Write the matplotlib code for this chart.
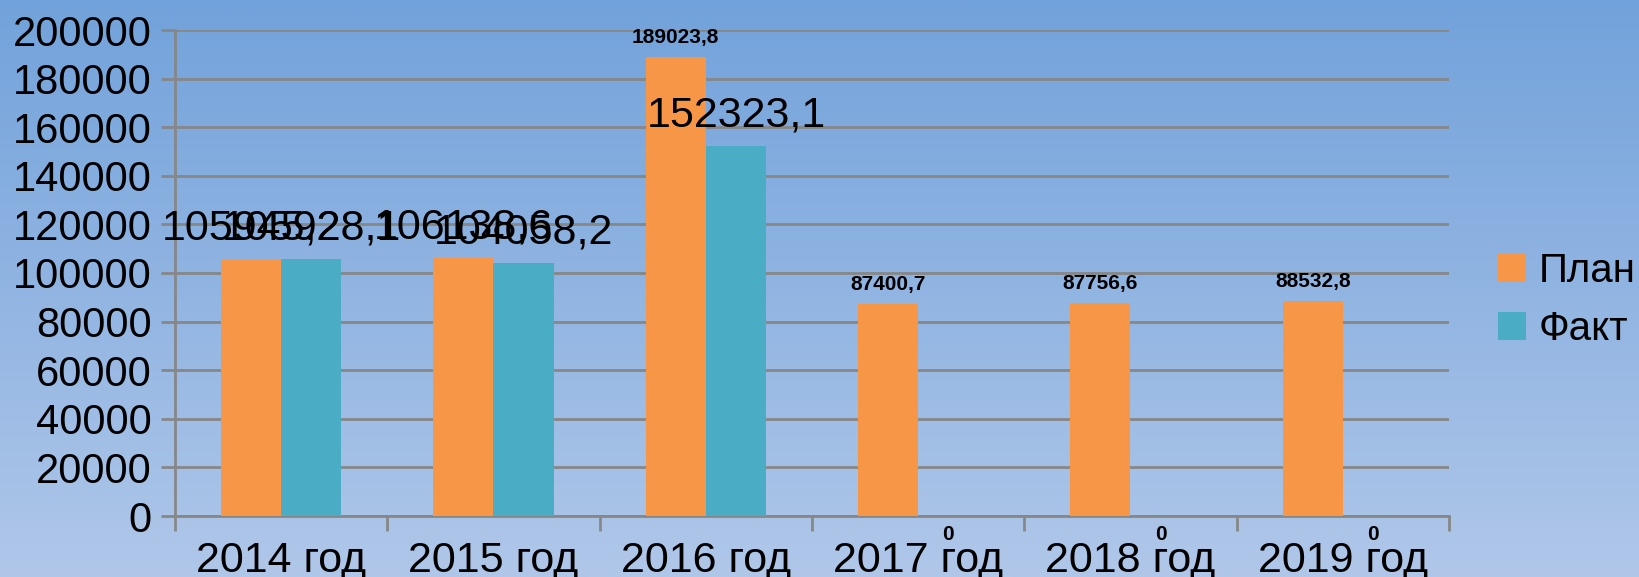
"""Plan vs fact bar chart, 2014-2019."""

import matplotlib

matplotlib.use("Agg")
import matplotlib.pyplot as plt
import numpy as np
from matplotlib.colors import LinearSegmentedColormap

years = ["2014 год", "2015 год", "2016 год", "2017 год", "2018 год", "2019 год"]
plan = [105945.2, 106138.6, 189023.8, 87400.7, 87756.6, 88532.8]
fact = [105928.1, 104058.2, 152323.1, 0.0, 0.0, 0.0]
series_names = ["План", "Факт"]

# which value labels are drawn large (the rest are small bold)
plan_big = [True, True, False, False, False, False]
fact_big = [True, True, True, False, False, False]

ORANGE = "#F79646"
TEAL = "#4BACC6"
GRID = "#878787"

plt.rcParams["font.family"] = ["Liberation Sans", "DejaVu Sans"]


def fmt(v):
    if v == 0:
        return "0"
    return f"{v:.1f}".replace(".", ",")


fig = plt.figure(figsize=(16.4, 5.77), dpi=100)

# gradient background
bg = fig.add_axes([0, 0, 1, 1], zorder=-10)
cmap = LinearSegmentedColormap.from_list("bg", ["#72A2DB", "#B0C7E9"])
bg.imshow(np.linspace(0, 1, 256).reshape(-1, 1), aspect="auto", cmap=cmap,
          extent=[0, 1, 0, 1], origin="upper")
bg.axis("off")

ax = fig.add_axes([175 / 1640, 1 - 516 / 577, (1449 - 175) / 1640, (516 - 30) / 577])
ax.set_facecolor("none")

x = np.arange(len(years))
w = 0.283
bp = ax.bar(x - w / 2, plan, w, color=ORANGE, label=series_names[0], zorder=3)
bf = ax.bar(x + w / 2, fact, w, color=TEAL, label=series_names[1], zorder=3)

ax.set_xlim(-0.5, len(years) - 0.5)
ax.set_ylim(0, 200000)
ax.set_yticks(np.arange(0, 200001, 20000))
ax.grid(axis="y", color=GRID, linewidth=2, zorder=0)
ax.set_axisbelow(True)

for s in ["top", "right"]:
    ax.spines[s].set_visible(False)
for s in ["left", "bottom"]:
    ax.spines[s].set_color(GRID)
    ax.spines[s].set_linewidth(2)

ax.tick_params(axis="y", length=10, width=2, color=GRID, pad=7, labelsize=30)
ax.set_xticks(x)
ax.set_xticklabels(years)
ax.tick_params(axis="x", which="major", length=0, pad=18, labelsize=31)
ax.set_xticks(np.arange(-0.5, len(years)), minor=True)
ax.tick_params(axis="x", which="minor", length=11, width=2, color=GRID)


def label(xpos, val, big):
    if big:
        ax.annotate(fmt(val), (xpos, val), xytext=(0, 14), textcoords="offset points",
                    ha="center", va="baseline", fontsize=31, zorder=5)
    elif val == 0:
        ax.annotate(fmt(val), (xpos, val), xytext=(0, -13), textcoords="offset points",
                    ha="center", va="center", fontsize=15, fontweight="bold",
                    annotation_clip=False, zorder=5)
    else:
        ax.annotate(fmt(val), (xpos, val), xytext=(0, 10), textcoords="offset points",
                    ha="center", va="baseline", fontsize=15, fontweight="bold", zorder=5)


for i in range(len(years)):
    label(x[i] - w / 2, plan[i], plan_big[i])
    label(x[i] + w / 2, fact[i], fact_big[i])

fig.legend(handles=[bp, bf], loc="center left", bbox_to_anchor=(1498 / 1640, 1 - 300 / 577),
           frameon=False, fontsize=29, handlelength=0.7, handleheight=0.7,
           handletextpad=0.3, labelspacing=0.5, borderpad=0, borderaxespad=0)

fig.savefig("out.png", dpi=100)
